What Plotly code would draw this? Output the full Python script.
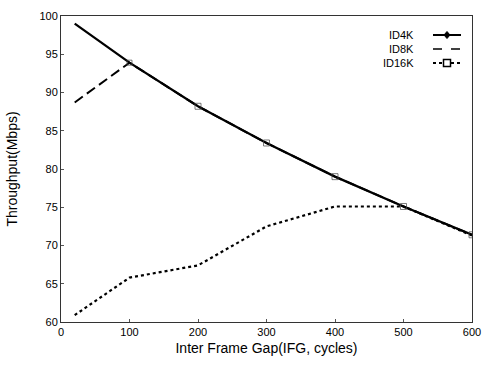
import plotly.graph_objects as go

ifg = [20, 100, 200, 300, 400, 500, 600]
id4k = [99.0, 93.9, 88.2, 83.4, 79.0, 75.1, 71.4]
id8k = [88.7, 93.9, 88.2, 83.4, 79.0, 75.1, 71.4]
id16k = [60.9, 65.8, 67.4, 72.5, 75.1, 75.1, 71.3]
series_names = ["ID4K", "ID8K", "ID16K"]
x_ticks = [0, 100, 200, 300, 400, 500, 600]
y_ticks = [60, 65, 70, 75, 80, 85, 90, 95, 100]

FONT = "Liberation Sans, Arial, sans-serif"
fig = go.Figure()
fig.add_trace(go.Scatter(x=ifg, y=id16k, mode="lines", name=series_names[2],
                         line=dict(color="black", width=2.2, dash="dot")))
fig.add_trace(go.Scatter(x=ifg, y=id8k, mode="lines", name=series_names[1],
                         line=dict(color="black", width=2, dash="10px,5px")))
fig.add_trace(go.Scatter(x=ifg, y=id4k, mode="lines+markers", name=series_names[0],
                         line=dict(color="black", width=2.3),
                         marker=dict(symbol="square-open", size=[0, 5, 6, 6, 6, 6, 6],
                                     color="#444", line=dict(width=1))))

# custom legend (text left of symbol, as in the original)
L, R, T, B = 61, 472, 16, 322
def px(x):
    return (x - L) / (R - L)
def py(y):
    return (B - y) / (B - T)

rows = [35, 49, 63]
styles = [dict(width=2, dash="solid"), dict(width=1.5, dash="dash"), dict(width=1.8, dash="dot")]
shapes = []
annotations = []
for name, ry, st in zip(series_names, rows, styles):
    annotations.append(dict(x=px(416), y=py(ry), xref="paper", yref="paper", text=name,
                            showarrow=False, xanchor="right", yanchor="middle",
                            font=dict(family=FONT, size=11, color="black")))
    shapes.append(dict(type="line", xref="paper", yref="paper", x0=px(433), x1=px(461),
                       y0=py(ry), y1=py(ry), line=dict(color="black", **st)))
# diamond for ID4K
cx, cy = px(447), py(rows[0])
dx, dy = 3 / (R - L), 3.5 / (B - T)
shapes.append(dict(type="path", xref="paper", yref="paper",
                   path=f"M {cx},{cy+dy} L {cx+dx},{cy} L {cx},{cy-dy} L {cx-dx},{cy} Z",
                   fillcolor="black", line=dict(color="black", width=1)))
# square for ID16K
cx, cy = px(447), py(rows[2])
dx, dy = 3.5 / (R - L), 3.5 / (B - T)
shapes.append(dict(type="rect", xref="paper", yref="paper", x0=cx - dx, x1=cx + dx,
                   y0=cy - dy, y1=cy + dy, fillcolor="white", line=dict(color="black", width=1.5)))

fig.update_layout(
    width=484, height=366,
    margin=dict(l=L, r=484 - R, t=T, b=366 - B),
    paper_bgcolor="white", plot_bgcolor="white",
    showlegend=False,
    font=dict(family=FONT, size=11, color="black"),
    shapes=shapes, annotations=annotations,
)
fig.update_xaxes(range=[0, 600], tickvals=x_ticks, showgrid=False, zeroline=False,
                 automargin=False,
                 showline=True, linecolor="#333", linewidth=1, mirror=True,
                 ticks="inside", ticklen=3, tickcolor="#555",
                 tickfont=dict(size=11),
                 title=dict(text="Inter Frame Gap(IFG, cycles)", font=dict(size=14), standoff=5))
fig.update_yaxes(range=[60, 100], tickvals=y_ticks, showgrid=False, zeroline=False,
                 automargin=False,
                 showline=True, linecolor="#333", linewidth=1, mirror=True,
                 ticks="inside", ticklen=3, tickcolor="#555",
                 tickfont=dict(size=11),
                 title=dict(text="Throughput(Mbps)", font=dict(size=14), standoff=18))

fig.write_html("out.html")
